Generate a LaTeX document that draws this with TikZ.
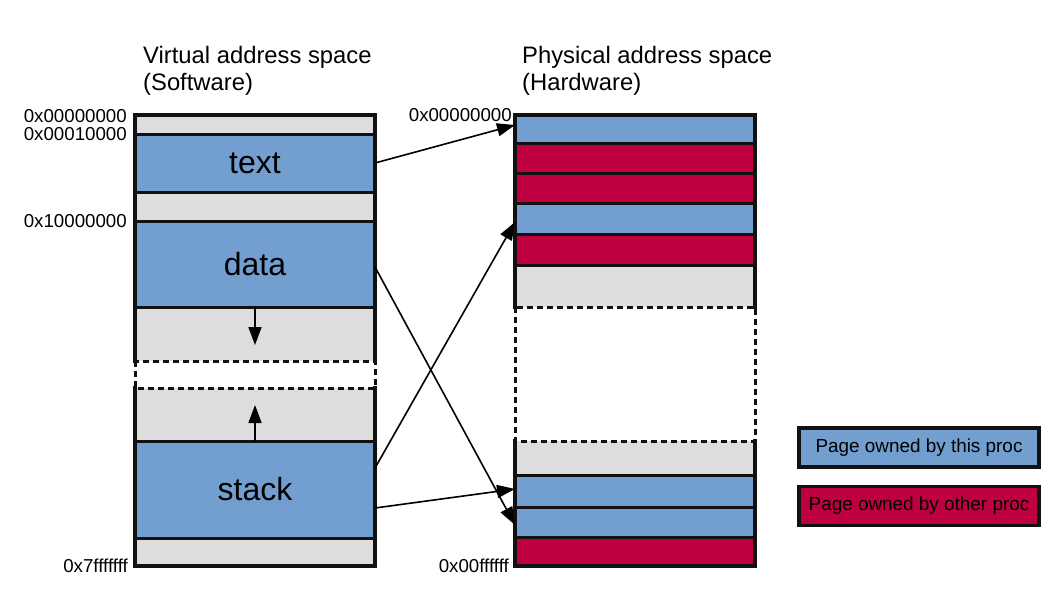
\documentclass[tikz,border=0pt]{standalone}
\usepackage{fontspec}
\setmainfont{Liberation Sans}
\usetikzlibrary{arrows.meta,calc}
\definecolor{mblue}{HTML}{729FCF}
\definecolor{mred}{HTML}{BF0040}
\definecolor{mgray}{HTML}{DDDDDD}
\definecolor{mline}{HTML}{111111}
\tikzset{
  seg/.style={minimum width=240pt, inner sep=0pt, outer sep=0pt, anchor=north west, font=\fontsize{32}{36}\selectfont},
  sep/.style={line width=3pt, draw=mline},
  outer/.style={line width=3.5pt, draw=mline, line cap=rect},
  dashbox/.style={line width=3pt, draw=mline, dash pattern=on 6pt off 4pt},
  addr/.style={anchor=east, inner sep=0pt, font=\fontsize{18.7}{22}\selectfont},
  title/.style={anchor=base west, inner sep=0pt, font=\fontsize{23.8}{27}\selectfont},
  legend/.style={draw=mline, line width=3.5pt, minimum width=240pt, minimum height=39pt, inner sep=0pt, font=\fontsize{18.9}{22}\selectfont},
  arr/.style={line width=1.6pt, -{Triangle[length=18pt,width=13pt]}},
}
\begin{document}
\begin{tikzpicture}[x=1pt,y=-1pt]
\useasboundingbox (0,0) rectangle (1058,595);
% titles
\node[title] (vt1) at (143,63) {Virtual address space};
\node[title] (vt2) at (143,90) {(Software)};
\node[title] (pt1) at (522,63) {Physical address space};
\node[title] (pt2) at (522,90) {(Hardware)};
% virtual column
\node[seg, fill=mgray, minimum height=19pt] (v0) at (135,115) {};
\node[seg, fill=mblue, minimum height=58pt] (v1) at (135,134) {text};
\node[seg, fill=mgray, minimum height=29pt] (v2) at (135,192) {};
\node[seg, fill=mblue, minimum height=86pt] (v3) at (135,221) {data};
\node[seg, fill=mgray, minimum height=54pt] (v4) at (135,307) {};
\node[seg, fill=white, minimum height=27pt] (vd) at (135,361) {};
\node[seg, fill=mgray, minimum height=53pt] (v5) at (135,388) {};
\node[seg, fill=mblue, minimum height=97pt] (v6) at (135,441) {stack};
\node[seg, fill=mgray, minimum height=28pt] (v7) at (135,538) {};
\foreach \n in {v1,v2,v3,v4,v6,v7} \draw[sep] (\n.north west) -- (\n.north east);
\draw[outer] (vd.north west) -- (v0.north west) -- (v0.north east) -- (vd.north east);
\draw[outer] (vd.south west) -- (v7.south west) -- (v7.south east) -- (vd.south east);
\draw[dashbox] (vd.north west) rectangle (vd.south east);
% physical column
\node[seg, fill=mblue, minimum height=28pt] (p0) at (515,115) {};
\node[seg, fill=mred, minimum height=30pt] (p1) at (515,143) {};
\node[seg, fill=mred, minimum height=30pt] (p2) at (515,173) {};
\node[seg, fill=mblue, minimum height=31pt] (p3) at (515,203) {};
\node[seg, fill=mred, minimum height=31pt] (p4) at (515,234) {};
\node[seg, fill=mgray, minimum height=42pt] (p5) at (515,265) {};
\node[seg, fill=white, minimum height=134pt] (pd) at (515,307) {};
\node[seg, fill=mgray, minimum height=34pt] (p6) at (515,441) {};
\node[seg, fill=mblue, minimum height=32pt] (p7) at (515,475) {};
\node[seg, fill=mblue, minimum height=30pt] (p8) at (515,507) {};
\node[seg, fill=mred, minimum height=29pt] (p9) at (515,537) {};
\foreach \n in {p1,p2,p3,p4,p5,p7,p8,p9} \draw[sep] (\n.north west) -- (\n.north east);
\draw[outer] (pd.north west) -- (p0.north west) -- (p0.north east) -- (pd.north east);
\draw[outer] (pd.south west) -- (p9.south west) -- (p9.south east) -- (pd.south east);
\draw[dashbox] (pd.north west) rectangle (pd.south east);
% address labels
\node[addr] (a0) at (127,116) {0x00000000};
\node[addr] (a1) at (127,134.5) {0x00010000};
\node[addr] (a2) at (127,221.5) {0x10000000};
\node[addr] (a3) at (128,566) {0x7fffffff};
\node[addr] (b0) at (512,115.5) {0x00000000};
\node[addr] (b1) at (509,566) {0x00ffffff};
% legend
\node[legend, fill=mblue] (l1) at (919,447.5) {Page owned by this proc};
\node[legend, fill=mred] (l2) at (919,506) {Page owned by other proc};
% growth arrows
\draw[arr] (v3.south) -- ($(v3.south)+(0,38)$);
\draw[arr] (v6.north) -- ($(v6.north)+(0,-36)$);
% mapping arrows
\draw[arr] (v1.east) -- ($(p0.north west)+(0,10)$);
\draw[arr] ($(v3.east)+(0,3)$) -- ($(p8.north west)+(0,18)$);
\draw[arr] ($(v6.east)+(0,-21.5)$) -- ($(p3.north west)+(0,19)$);
\draw[arr] ($(v6.east)+(0,18.5)$) -- ($(p7.north west)+(0,14)$);
\end{tikzpicture}
\end{document}
